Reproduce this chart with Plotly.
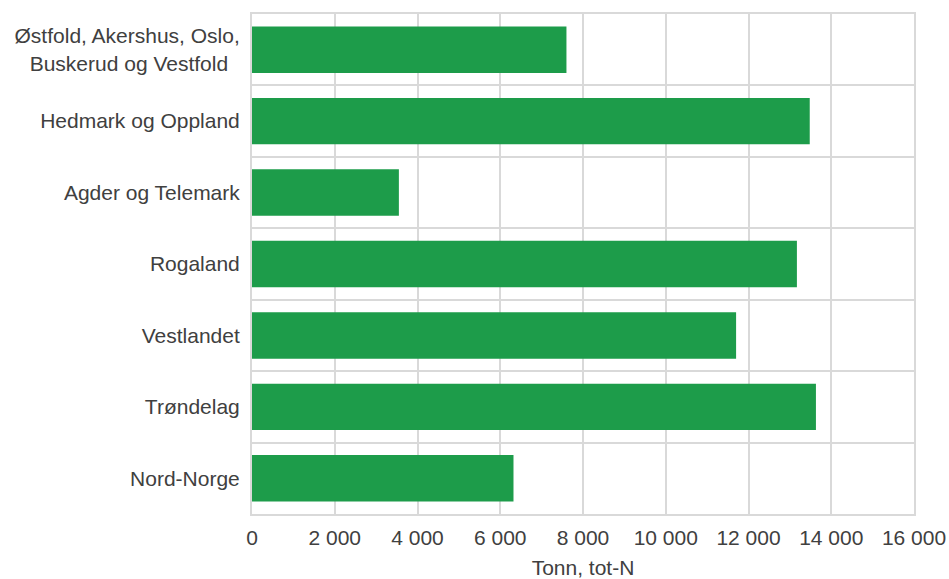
import plotly.graph_objects as go

regions = [
    "Østfold, Akershus, Oslo,<br>Buskerud og Vestfold\u00a0\u00a0",
    "Hedmark og Oppland",
    "Agder og Telemark",
    "Rogaland",
    "Vestlandet",
    "Trøndelag",
    "Nord-Norge",
]
values = [7600, 13480, 3550, 13170, 11700, 13630, 6320]
x_ticks = [0, 2000, 4000, 6000, 8000, 10000, 12000, 14000, 16000]

GRID = "#d9d9d9"
TXT = "#404040"
FONT = "Liberation Sans, Arial, sans-serif"
FS = 21

fig = go.Figure(go.Bar(
    y=regions,
    x=values,
    orientation="h",
    marker=dict(color="#1d9c4a", line=dict(width=0)),
))

fig.update_layout(
    width=949,
    height=579,
    margin=dict(l=252, r=35, t=14, b=65),
    paper_bgcolor="white",
    plot_bgcolor="white",
    separators=", ",
    bargap=0.35,
    showlegend=False,
    font=dict(family=FONT, size=FS, color=TXT),
)

fig.update_xaxes(
    range=[0, 16000],
    tickvals=x_ticks,
    tickformat=",",
    automargin=False,
    showgrid=True,
    gridcolor=GRID,
    gridwidth=2,
    zeroline=False,
    showline=True,
    linecolor=GRID,
    linewidth=2,
    mirror=True,
    ticks="outside",
    ticklen=4,
    tickcolor="rgba(0,0,0,0)",
    tickfont=dict(family=FONT, size=FS, color=TXT),
    title=dict(text="Tonn, tot-N", font=dict(family=FONT, size=FS, color=TXT), standoff=17),
    fixedrange=True,
)

fig.update_yaxes(
    autorange="reversed",
    tickson="boundaries",
    automargin=False,
    showgrid=True,
    gridcolor=GRID,
    gridwidth=2,
    showline=True,
    linecolor=GRID,
    linewidth=2,
    mirror=True,
    ticks="",
    ticklabelstandoff=6,
    tickfont=dict(family=FONT, size=FS, color=TXT),
    fixedrange=True,
)

fig.write_html("out.html")
